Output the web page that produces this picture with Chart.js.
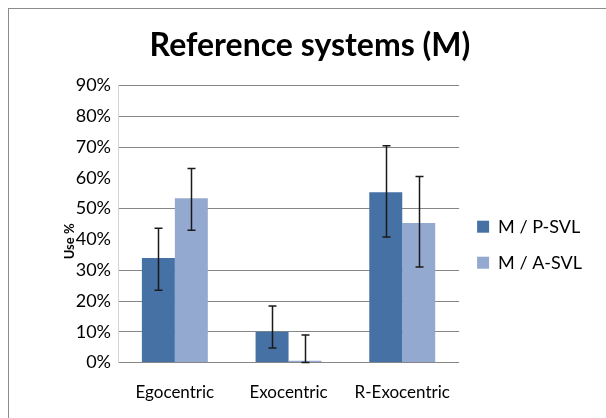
<!DOCTYPE html>
<html>
<head>
<meta charset="utf-8">
<script src="https://cdn.jsdelivr.net/npm/chart.js@4.4.1/dist/chart.umd.min.js"></script>
<style>
  body { margin: 0; background: #fff; }
  #wrap { width: 606px; height: 418px; }
</style>
</head>
<body>
<div id="wrap"><canvas id="chart" width="606" height="418"></canvas></div>
<script>
// values (percent)
var categories = ['Egocentric', 'Exocentric', 'R-Exocentric'];
var seriesNames = ['M / P-SVL', 'M / A-SVL'];
var pSvl = [34, 10, 55.3];
var aSvl = [53.4, 0.6, 45.3];
// error bars: distance above / below the bar top
var pSvlErrUp = [9.6, 8.4, 15.1];
var pSvlErrDown = [10.5, 5.3, 14.5];
var aSvlErrUp = [9.6, 8.4, 15.1];
var aSvlErrDown = [10.4, 0.6, 14.3];
var yTicks = [0, 10, 20, 30, 40, 50, 60, 70, 80, 90];
var hiddenGrid = [40, 60];

var errUp = [pSvlErrUp, aSvlErrUp];
var errDown = [pSvlErrDown, aSvlErrDown];

var frame = {
    id: 'frame',
    beforeDraw: function(chart) {
        var c = chart.ctx;
        c.save();
        c.fillStyle = '#fff';
        c.fillRect(0, 0, chart.width, chart.height);
        c.strokeStyle = '#8c8c8c';
        c.lineWidth = 1;
        c.strokeRect(8.5, 8.5, 700, 700);
        c.restore();
    }
};

var errorBars = {
    id: 'errorBars',
    afterDatasetsDraw: function(chart) {
        var c = chart.ctx;
        var y = chart.scales.y;
        c.save();
        c.strokeStyle = '#1a1a1a';
        c.lineWidth = 1.5;
        chart.data.datasets.forEach(function(ds, di) {
            var meta = chart.getDatasetMeta(di);
            meta.data.forEach(function(bar, i) {
                var v = ds.data[i];
                var top = y.getPixelForValue(v + errUp[di][i]);
                var bot = y.getPixelForValue(v - errDown[di][i]);
                var x = Math.round(bar.x) + 0.5;
                c.beginPath();
                c.moveTo(x, top); c.lineTo(x, bot);
                c.moveTo(x - 4, top); c.lineTo(x + 4, top);
                c.moveTo(x - 4, bot); c.lineTo(x + 4, bot);
                c.stroke();
            });
        });
        c.restore();
    }
};

var ctx = document.getElementById('chart').getContext('2d');
var chart = new Chart(ctx, {
    type: 'bar',
    data: {
        labels: categories,
        datasets: [
            { label: seriesNames[0], data: pSvl, backgroundColor: '#4671a5', borderWidth: 0 },
            { label: seriesNames[1], data: aSvl, backgroundColor: '#94a9d0', borderWidth: 0 }
        ]
    },
    options: {
        responsive: false,
        animation: false,
        layout: { padding: { left: 28, right: 14, top: 0, bottom: 3 } },
        datasets: { bar: { categoryPercentage: 0.58, barPercentage: 1.0 } },
        scales: {
            x: {
                grid: { display: false },
                border: { display: false },
                ticks: { color: '#000', padding: 12, font: { family: 'Lato', size: 17 } }
            },
            y: {
                min: 0,
                max: 90,
                afterBuildTicks: function(scale) {
                    scale.ticks = yTicks.map(function(v) { return { value: v }; });
                },
                afterFit: function(scale) { scale.width = 90; },
                grid: {
                    drawTicks: false,
                    color: function(c) {
                        return hiddenGrid.indexOf(c.tick.value) >= 0 ? 'rgba(0,0,0,0)' : '#868686';
                    }
                },
                border: { display: true, color: '#d4d4d4' },
                ticks: {
                    color: '#000',
                    padding: 7,
                    font: { family: 'Lato', size: 18 },
                    callback: function(v) { return v + '%'; }
                },
                title: {
                    display: true,
                    text: 'Use %\u00a0\u00a0\u00a0\u00a0\u00a0\u00a0\u00a0\u00a0\u00a0\u00a0\u00a0',
                    color: '#000',
                    padding: { top: 34, bottom: 0 },
                    font: { family: 'Lato', size: 13, weight: 'bold' }
                }
            }
        },
        plugins: {
            title: {
                display: true,
                text: 'Reference systems (M)',
                color: '#000',
                padding: { top: 26, bottom: 21 },
                font: { family: 'Lato', size: 32, weight: 'bold' }
            },
            legend: {
                position: 'right',
                title: { display: true, text: '', padding: { top: 60, bottom: 0 } },
                labels: {
                    color: '#000',
                    boxWidth: 12,
                    boxHeight: 12,
                    padding: 18,
                    font: { family: 'Lato', size: 18 }
                }
            },
            tooltip: { enabled: false }
        }
    },
    plugins: [frame, errorBars]
});
</script>
</body>
</html>
